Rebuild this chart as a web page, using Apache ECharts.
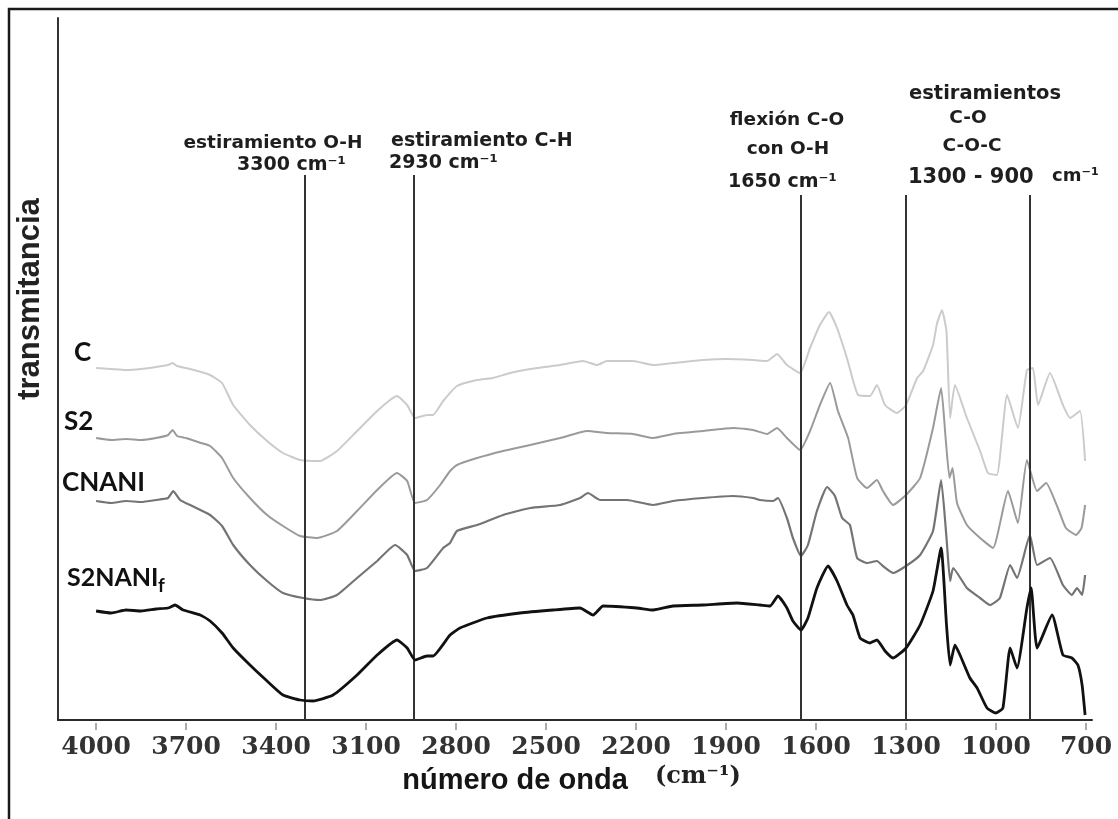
<!DOCTYPE html>
<html>
<head>
<meta charset="utf-8">
<script src="https://cdn.jsdelivr.net/npm/echarts@6/dist/echarts.min.js"></script>
<style>
  html, body { margin: 0; padding: 0; background: #fff; }
  #chart { width: 1118px; height: 819px; }
</style>
</head>
<body>
<div id="chart"></div>
<script>
// wavenumber ticks shown on the x axis (cm-1)
const ticks = [4000, 3700, 3400, 3100, 2800, 2500, 2200, 1900, 1600, 1300, 1000, 700];

// band marker lines: wavenumber and top of the line (transmittance units)
const bandPos = [3305, 2940, 1650, 1302, 888];
const bandTop = [545, 545, 525, 525, 525];

// spectra: [wavenumber, transmittance (a.u.)]
const specC = [
  [4000, 352], [3950, 351], [3900, 350], [3850, 351], [3800, 353], [3760, 355], [3745, 357],
  [3730, 354], [3700, 352], [3650, 348], [3620, 345], [3580, 337], [3543, 315], [3487, 295],
  [3430, 279], [3377, 267], [3320, 260], [3253, 259], [3197, 269], [3130, 289], [3063, 309],
  [3020, 320], [2997, 324], [2963, 315], [2937, 302], [2897, 305], [2877, 305], [2843, 319],
  [2797, 334], [2730, 340], [2677, 342], [2620, 347], [2530, 352], [2453, 355], [2377, 359],
  [2330, 355], [2297, 359], [2210, 359], [2143, 355], [2077, 357], [1977, 360], [1897, 361],
  [1810, 360], [1763, 359], [1730, 366], [1697, 355], [1653, 347], [1620, 372], [1587, 395],
  [1557, 408], [1530, 392], [1497, 362], [1460, 325], [1420, 324], [1397, 335], [1370, 315],
  [1330, 307], [1300, 315], [1263, 342], [1243, 349], [1210, 375], [1197, 396], [1180, 410],
  [1165, 388], [1153, 302], [1137, 335], [1097, 302], [1053, 269], [1027, 247], [997, 245],
  [963, 325], [927, 292], [897, 350], [877, 352], [860, 315], [820, 347], [777, 315],
  [753, 302], [720, 309], [703, 259]
];

const specS2 = [
  [4000, 282], [3950, 280], [3900, 281], [3850, 280], [3800, 282], [3760, 285], [3745, 290],
  [3730, 284], [3700, 282], [3650, 277], [3620, 274], [3580, 262], [3543, 242], [3487, 222],
  [3430, 205], [3377, 194], [3320, 184], [3263, 182], [3197, 189], [3130, 209], [3063, 230],
  [2997, 247], [2963, 239], [2937, 217], [2897, 220], [2853, 235], [2820, 249], [2797, 255],
  [2730, 262], [2643, 269], [2553, 275], [2453, 282], [2363, 289], [2297, 287], [2210, 286],
  [2143, 282], [2077, 286], [1977, 289], [1877, 292], [1810, 290], [1763, 286], [1730, 292],
  [1697, 282], [1653, 270], [1620, 289], [1587, 315], [1553, 337], [1527, 309], [1493, 282],
  [1463, 242], [1430, 232], [1397, 240], [1377, 229], [1343, 215], [1300, 225], [1253, 242],
  [1210, 292], [1183, 332], [1168, 282], [1155, 242], [1145, 252], [1130, 217], [1097, 195],
  [1053, 182], [1010, 172], [960, 229], [927, 197], [897, 260], [863, 229], [833, 237],
  [790, 209], [767, 192], [733, 185], [715, 192], [703, 215]
];

const specCNANI = [
  [4000, 219], [3950, 217], [3900, 219], [3850, 218], [3800, 220], [3760, 222], [3743, 229],
  [3720, 220], [3680, 214], [3620, 205], [3580, 194], [3543, 175], [3487, 155], [3430, 139],
  [3377, 127], [3310, 122], [3253, 120], [3197, 125], [3130, 142], [3063, 159], [3003, 175],
  [2963, 165], [2937, 149], [2897, 152], [2843, 172], [2820, 177], [2797, 189], [2730, 195],
  [2643, 205], [2553, 212], [2453, 215], [2387, 222], [2360, 227], [2320, 220], [2230, 220],
  [2143, 215], [2077, 219], [1977, 222], [1877, 224], [1810, 222], [1787, 220], [1743, 219],
  [1727, 222], [1697, 202], [1677, 182], [1650, 164], [1627, 175], [1597, 209], [1563, 233],
  [1537, 224], [1513, 202], [1487, 195], [1463, 162], [1430, 157], [1397, 159], [1377, 154],
  [1343, 147], [1300, 154], [1253, 165], [1210, 189], [1183, 240], [1165, 182], [1153, 139],
  [1143, 152], [1097, 132], [1053, 122], [1020, 115], [987, 122], [953, 155], [930, 142],
  [887, 185], [863, 155], [820, 162], [777, 135], [747, 125], [730, 132], [713, 125], [703, 145]
];

const specS2NANIf = [
  [4000, 109], [3950, 107], [3900, 110], [3850, 109], [3800, 111], [3760, 112], [3737, 115],
  [3710, 110], [3653, 105], [3620, 99], [3580, 87], [3543, 72], [3487, 55], [3430, 39],
  [3377, 25], [3320, 20], [3277, 19], [3210, 25], [3130, 45], [3063, 65], [2997, 80],
  [2963, 72], [2937, 60], [2897, 64], [2877, 64], [2820, 85], [2787, 92], [2697, 102],
  [2587, 107], [2477, 110], [2387, 112], [2343, 105], [2310, 114], [2197, 112], [2143, 110],
  [2077, 114], [1977, 115], [1863, 117], [1787, 115], [1753, 114], [1727, 124], [1697, 112],
  [1677, 99], [1650, 90], [1627, 102], [1597, 132], [1560, 154], [1530, 139], [1497, 115],
  [1477, 105], [1453, 82], [1420, 77], [1397, 80], [1370, 69], [1343, 62], [1300, 72],
  [1253, 95], [1210, 129], [1183, 172], [1165, 95], [1153, 55], [1137, 75], [1120, 65],
  [1087, 42], [1063, 32], [1030, 12], [1000, 7], [977, 12], [953, 72], [930, 52],
  [897, 112], [883, 132], [863, 72], [813, 105], [777, 65], [747, 62], [727, 55],
  [713, 35], [703, 5]
];

const seriesNames = ['C', 'S2', 'CNANI', 'S2NANIf'];
const seriesData = [specC, specS2, specCNANI, specS2NANIf];
const seriesColors = ['#cbcbcb', '#9a9a9a', '#747474', '#111111'];
const seriesWidths = [2, 2, 2.2, 2.8];

const chart = echarts.init(document.getElementById('chart'));

const sans = '"DejaVu Sans", sans-serif';
const lbl = (text, x, y, align, size) => ({
  type: 'text',
  x, y,
  silent: true,
  style: {
    text,
    fill: '#1e1e1e',
    font: `bold ${size || 18.5}px ${sans}`,
    align: align || 'center',
    verticalAlign: 'middle',
  },
});
const curveLbl = (text, x, y, size) => ({
  type: 'text',
  x, y,
  silent: true,
  style: {
    text,
    fill: '#111',
    font: `bold ${size || 26}px Lato, sans-serif`,
    align: 'left',
    verticalAlign: 'middle',
  },
});

const bandLines = bandPos.map((v, i) => [
  { coord: [v, 0] },
  { coord: [v, bandTop[i]] },
]);

const series = seriesData.map((d, i) => ({
  name: seriesNames[i],
  type: 'line',
  data: d,
  showSymbol: false,
  symbol: 'none',
  smooth: 0.15,
  z: 2 + i,
  lineStyle: { color: seriesColors[i], width: seriesWidths[i] },
}));
series.push({
  type: 'line',
  data: [],
  z: 5,
  markLine: {
    silent: true,
    symbol: 'none',
    label: { show: false },
    lineStyle: { color: '#333', width: 2, type: 'solid' },
    data: bandLines,
  },
});

chart.setOption({
  animation: false,
  backgroundColor: '#fff',
  grid: { left: 58, right: 26, top: 18, bottom: 99 },
  xAxis: [
    {
      type: 'value',
      inverse: true,
      min: 680,
      max: 4127,
      axisLine: { show: true, lineStyle: { color: '#2a2a2a', width: 2 } },
      axisTick: { show: false },
      splitLine: { show: false },
      axisLabel: {
        customValues: ticks,
        formatter: (v) => String(v),
        margin: 15,
        color: '#333',
        fontFamily: '"DejaVu Serif", serif',
        fontWeight: 'bold',
        fontSize: 25,
      },
    },
    {
      type: 'value',
      inverse: true,
      min: 680,
      max: 4127,
      position: 'bottom',
      offset: 3,
      axisLine: { show: false },
      axisTick: {
        show: true,
        customValues: ticks,
        length: 7,
        lineStyle: { color: '#aaa', width: 2 },
      },
      axisLabel: { show: false },
      splitLine: { show: false },
    },
  ],
  yAxis: {
    type: 'value',
    min: 0,
    max: 702,
    axisLine: { show: true, lineStyle: { color: '#333', width: 2 } },
    axisTick: { show: false },
    axisLabel: { show: false },
    splitLine: { show: false },
  },
  series,
  graphic: [
    {
      type: 'rect',
      silent: true,
      shape: { x: 9, y: 9, width: 1300, height: 1000 },
      style: { fill: 'none', stroke: '#1a1a1a', lineWidth: 2.5 },
    },
    {
      type: 'text',
      x: 30, y: 299,
      rotation: Math.PI / 2,
      silent: true,
      style: {
        text: 'transmitancia',
        fill: '#222',
        font: 'bold 31px "Liberation Sans", Arial, sans-serif',
        align: 'center',
        verticalAlign: 'middle',
      },
    },
    {
      type: 'text',
      x: 515, y: 781,
      silent: true,
      style: {
        text: 'número de onda',
        fill: '#151515',
        font: 'bold 29px "Liberation Sans", Arial, sans-serif',
        align: 'center',
        verticalAlign: 'middle',
      },
    },
    {
      type: 'text',
      x: 655, y: 777,
      silent: true,
      style: {
        text: '(cm⁻¹)',
        fill: '#222',
        font: 'bold 24px "DejaVu Serif", serif',
        align: 'left',
        verticalAlign: 'middle',
      },
    },
    // band annotations
    lbl('estiramiento O-H', 273, 143),
    lbl('3300 cm⁻¹', 237, 165, 'left', 19),
    lbl('estiramiento C-H', 391, 141, 'left', 19),
    lbl('2930 cm⁻¹', 389, 163, 'left', 19),
    lbl('flexión C-O', 787, 120),
    lbl('con O-H', 788, 149),
    lbl('1650 cm⁻¹', 728, 182, 'left', 19),
    lbl('estiramientos', 985, 94, 'center', 19.5),
    lbl('C-O', 968, 118),
    lbl('C-O-C', 972, 146),
    lbl('1300 - 900', 908, 178, 'left', 21),
    lbl('cm⁻¹', 1052, 176, 'left', 18),
    // curve labels
    curveLbl('C', 74, 353),
    curveLbl('S2', 64, 422),
    curveLbl('CNANI', 62, 483),
    curveLbl('S2NANI', 67, 578, 25),
    curveLbl('f', 158, 586, 19),
  ],
});
</script>
</body>
</html>
